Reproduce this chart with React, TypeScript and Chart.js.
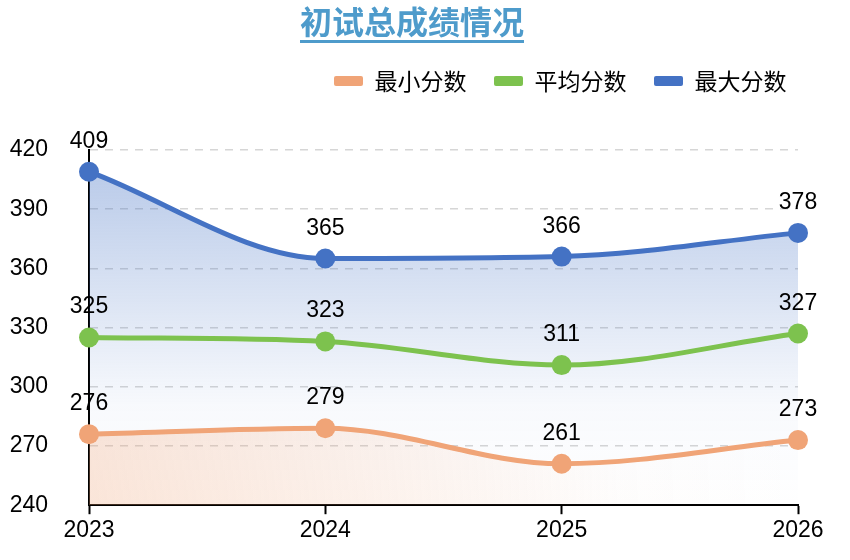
import React, { useRef, useEffect } from "react";
import { Chart, registerables } from "chart.js";

Chart.register(...registerables);

const categories = ["2023", "2024", "2025", "2026"];
const minScores = [276, 279, 261, 273];
const avgScores = [325, 323, 311, 327];
const maxScores = [409, 365, 366, 378];
const yMin = 240;
const yMax = 420;
const yStep = 30;

const ORANGE = "#f0a477";
const GREEN = "#7dc24e";
const BLUE = "#4472c4";
const TITLE_BLUE = "#4e9bcb";
const NUM_FONT = '"Liberation Sans", Arial, sans-serif';
const CJK_FONT = '"Noto Sans CJK SC", "Noto Sans", sans-serif';

// puts the value above each point
const valueLabels = {
    id: "valueLabels",
    afterDatasetsDraw(chart: any) {
        const ctx = chart.ctx;
        ctx.save();
        ctx.font = `23px ${NUM_FONT}`;
        ctx.fillStyle = "#000";
        ctx.textAlign = "center";
        ctx.textBaseline = "alphabetic";
        chart.data.datasets.forEach((ds: any, i: number) => {
            const meta = chart.getDatasetMeta(i);
            if (meta.hidden) return;
            meta.data.forEach((pt: any, j: number) => {
                ctx.fillText(String(ds.data[j]), pt.x, pt.y - 24);
            });
        });
        ctx.restore();
    },
};

// legend sits higher than the plot top and a bit to the right
const legendPlacer = {
    id: "legendPlacer",
    beforeLayout(chart: any) {
        const legend = chart.legend;
        if (legend && !legend._patched) {
            const fit = legend.fit;
            legend.fit = function () {
                fit.call(this);
                this.height = 150;
            };
            legend._patched = true;
        }
    },
    afterLayout(chart: any) {
        const legend = chart.legend;
        if (!legend) return;
        legend.top = 42;
        legend.left += 16;
        legend.right += 16;
    },
};

const ScoreChart = () => {
    const chartRef = useRef<HTMLCanvasElement>(null);

    useEffect(() => {
        const ctx = chartRef.current?.getContext("2d");
        if (!ctx) return;

        const myChart = new Chart(ctx, {
            type: "line",
            data: {
                labels: categories,
                datasets: [
                    {
                        label: "最小分数",
                        data: minScores,
                        borderColor: ORANGE,
                        pointBackgroundColor: ORANGE,
                        pointBorderColor: ORANGE,
                        fill: "origin",
                        backgroundColor: (c: any) => {
                            const area = c.chart.chartArea;
                            if (!area) return "rgba(240,164,119,0.2)";
                            const g = c.chart.ctx.createLinearGradient(area.left, 0, area.right, 0);
                            g.addColorStop(0, "rgba(240,164,119,0.28)");
                            g.addColorStop(0.75, "rgba(240,164,119,0.02)");
                            g.addColorStop(1, "rgba(240,164,119,0)");
                            return g;
                        },
                    },
                    {
                        label: "平均分数",
                        data: avgScores,
                        borderColor: GREEN,
                        backgroundColor: GREEN,
                        pointBackgroundColor: GREEN,
                        pointBorderColor: GREEN,
                        fill: false,
                    },
                    {
                        label: "最大分数",
                        data: maxScores,
                        borderColor: BLUE,
                        pointBackgroundColor: BLUE,
                        pointBorderColor: BLUE,
                        fill: "origin",
                        backgroundColor: (c: any) => {
                            const area = c.chart.chartArea;
                            if (!area) return "rgba(68,114,196,0.2)";
                            const g = c.chart.ctx.createLinearGradient(0, area.top, 0, area.bottom);
                            g.addColorStop(0, "rgba(68,114,196,0.4)");
                            g.addColorStop(0.72, "rgba(68,114,196,0.04)");
                            g.addColorStop(1, "rgba(68,114,196,0)");
                            return g;
                        },
                    },
                ],
            },
            options: {
                responsive: true,
                maintainAspectRatio: false,
                animation: false,
                layout: {
                    padding: { left: 10, right: 52, top: 0, bottom: 5 },
                },
                elements: {
                    line: {
                        borderWidth: 5,
                        tension: 0.4,
                        cubicInterpolationMode: "monotone",
                    },
                    point: {
                        radius: 10,
                        hoverRadius: 10,
                        borderWidth: 0,
                    },
                },
                plugins: {
                    legend: {
                        position: "top",
                        align: "end",
                        labels: {
                            boxWidth: 29,
                            boxHeight: 10,
                            padding: 27.5,
                            color: "#333",
                            font: { family: CJK_FONT, size: 23 },
                            generateLabels: (chart: any) =>
                                chart.data.datasets.map((ds: any, i: number) => ({
                                    text: ds.label,
                                    fillStyle: ds.borderColor,
                                    strokeStyle: ds.borderColor,
                                    lineWidth: 0,
                                    borderRadius: 2,
                                    hidden: !chart.isDatasetVisible(i),
                                    datasetIndex: i,
                                })),
                        },
                    },
                    tooltip: { enabled: false },
                },
                scales: {
                    x: {
                        grid: {
                            drawOnChartArea: false,
                            drawTicks: true,
                            tickLength: 9,
                            tickColor: "#000",
                            tickWidth: 2,
                        },
                        border: { display: true, color: "#000", width: 2 },
                        ticks: {
                            color: "#000",
                            padding: 3,
                            font: { family: NUM_FONT, size: 23 },
                        },
                    },
                    y: {
                        min: yMin,
                        max: yMax,
                        afterFit: (scale: any) => {
                            scale.width = 79;
                        },
                        grid: {
                            color: "#d6d6d6",
                            lineWidth: 1.5,
                            drawTicks: false,
                        },
                        border: { display: true, color: "#000", width: 2, dash: [8, 7] },
                        ticks: {
                            stepSize: yStep,
                            color: "#000",
                            padding: 41,
                            font: { family: NUM_FONT, size: 23 },
                        },
                    },
                },
            },
            plugins: [valueLabels, legendPlacer],
        });

        return () => {
            myChart.destroy();
        };
    }, []);

    return (
        <div style={{ position: "absolute", left: 0, top: 0, width: 850, height: 560 }}>
            <canvas ref={chartRef}></canvas>
            <div
                style={{
                    position: "absolute",
                    left: 0,
                    top: 0,
                    width: 824,
                    textAlign: "center",
                    pointerEvents: "none",
                }}
            >
                <span
                    style={{
                        display: "inline-block",
                        fontFamily: CJK_FONT,
                        fontWeight: "bold",
                        fontSize: 32,
                        lineHeight: "36px",
                        paddingTop: 2,
                        paddingBottom: 2,
                        color: TITLE_BLUE,
                        borderBottom: `3px solid ${TITLE_BLUE}`,
                    }}
                >
                    初试总成绩情况
                </span>
            </div>
        </div>
    );
};

export default function App() {
    return <ScoreChart />;
}
